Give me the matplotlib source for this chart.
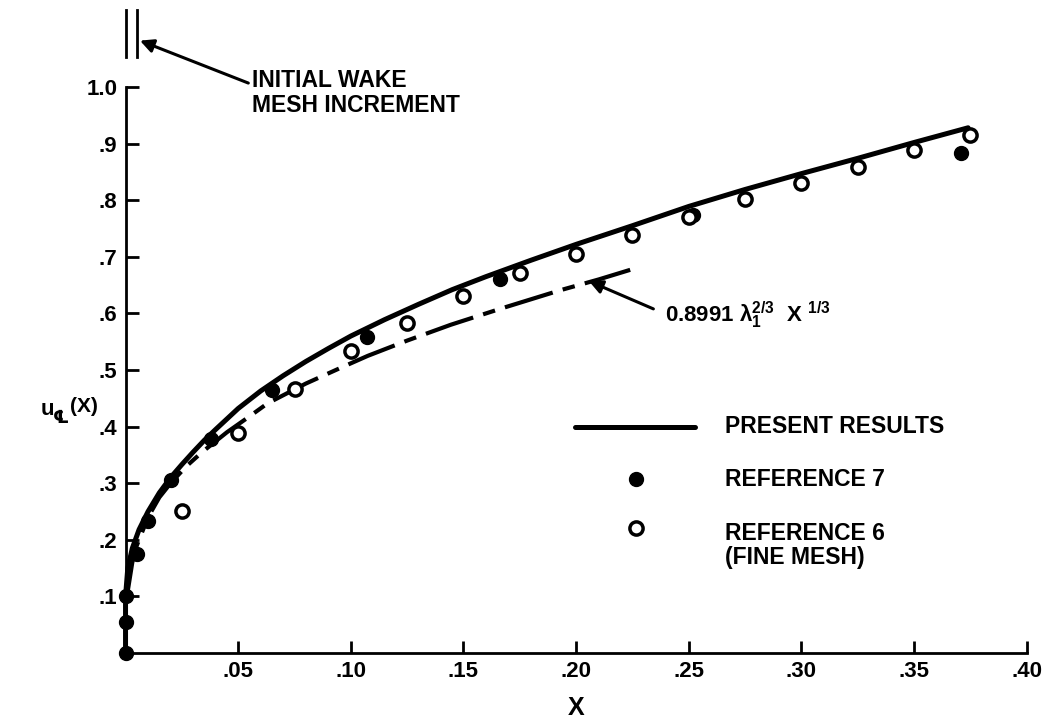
import matplotlib.pyplot as plt

plt.rcParams['font.family'] = ['Liberation Sans', 'DejaVu Sans']
plt.rcParams['font.weight'] = 'bold'
plt.rcParams['mathtext.fontset'] = 'custom'
plt.rcParams['mathtext.rm'] = 'Liberation Sans:bold'
plt.rcParams['mathtext.it'] = 'Liberation Sans:bold'

# Present results (solid curve)
present_x = [0, 0, 0.001, 0.003, 0.006, 0.010, 0.015, 0.020, 0.025, 0.030, 0.035, 0.040,
             0.050, 0.060, 0.070, 0.080, 0.090, 0.100, 0.115, 0.130, 0.145, 0.160, 0.180,
             0.200, 0.225, 0.250, 0.275, 0.300, 0.325, 0.350, 0.374]
present_y = [0, 0.10, 0.15, 0.185, 0.218, 0.25, 0.283, 0.31, 0.333, 0.355, 0.376, 0.395,
             0.432, 0.463, 0.49, 0.515, 0.538, 0.56, 0.589, 0.616, 0.642, 0.665, 0.694,
             0.722, 0.755, 0.789, 0.819, 0.847, 0.874, 0.902, 0.928]

# Asymptotic curve 0.8991 lambda^(2/3) X^(1/3) (dash-dot)
asym_x = [0.001, 0.003, 0.005, 0.010, 0.015, 0.020, 0.027, 0.034, 0.045, 0.055, 0.063,
          0.080, 0.095, 0.1075, 0.125, 0.1444, 0.167, 0.193, 0.210, 0.224]
asym_y = [0.11, 0.16, 0.19, 0.24, 0.275, 0.30, 0.33, 0.355, 0.39, 0.418, 0.441,
          0.476, 0.503, 0.525, 0.552, 0.58, 0.609, 0.641, 0.66, 0.677]

# Reference 7 (filled)
ref7_x = [0, 0, 0, 0.005, 0.010, 0.020, 0.038, 0.065, 0.107, 0.166, 0.252, 0.371]
ref7_y = [0, 0.055, 0.10, 0.175, 0.234, 0.306, 0.378, 0.465, 0.558, 0.660, 0.774, 0.883]

# Reference 6, fine mesh (open)
ref6_x = [0.025, 0.05, 0.075, 0.10, 0.125, 0.15, 0.175, 0.20, 0.225, 0.25,
          0.275, 0.30, 0.325, 0.35, 0.375]
ref6_y = [0.251, 0.389, 0.466, 0.534, 0.583, 0.631, 0.671, 0.705, 0.739, 0.770,
          0.802, 0.831, 0.859, 0.889, 0.915]

xticks = [0.05, 0.10, 0.15, 0.20, 0.25, 0.30, 0.35, 0.40]
xtick_labels = ['.05', '.10', '.15', '.20', '.25', '.30', '.35', '.40']
yticks = [0.1, 0.2, 0.3, 0.4, 0.5, 0.6, 0.7, 0.8, 0.9, 1.0]
ytick_labels = ['.1', '.2', '.3', '.4', '.5', '.6', '.7', '.8', '.9', '1.0']

fig = plt.figure(figsize=(10.47, 7.21), dpi=100)
ax = fig.add_axes([0.1199, 0.0943, 0.8607, 0.785])

ax.plot(present_x, present_y, color='black', lw=3.6, solid_capstyle='round',
        solid_joinstyle='round', clip_on=False, zorder=3)
ax.plot(asym_x, asym_y, color='black', lw=3.0, linestyle=(0, (12, 2.5, 3, 2.5)),
        clip_on=False, zorder=3)
ax.plot(ref7_x, ref7_y, 'o', color='black', ms=10, clip_on=False, zorder=4)
ax.plot(ref6_x, ref6_y, 'o', mfc='white', mec='black', mew=2.5, ms=9.5, clip_on=False, zorder=4)

ax.set_xlim(0, 0.40)
ax.set_ylim(0, 1.0)
for s in ['top', 'right']:
    ax.spines[s].set_visible(False)
for s in ['left', 'bottom']:
    ax.spines[s].set_linewidth(2.0)

ax.set_xticks(xticks)
ax.set_xticklabels(xtick_labels)
ax.set_yticks(yticks)
ax.set_yticklabels(ytick_labels)
ax.tick_params(direction='in', length=9, width=2, labelsize=16, pad=6)

ax.text(0.2, -0.098, 'X', fontsize=18, ha='center', va='center')

# y-axis label with centreline subscript
ax.text(-0.0375, 0.43, 'u', fontsize=16, ha='left', va='center', clip_on=False)
ax.text(-0.0322, 0.414, '℄', fontsize=13, ha='left', va='center', clip_on=False)
ax.text(-0.0245, 0.435, '(X)', fontsize=15, ha='left', va='center', clip_on=False)

# initial wake mesh increment marks
ax.plot([0, 0], [1.053, 1.136], color='black', lw=2, clip_on=False)
ax.plot([0.005, 0.005], [1.053, 1.136], color='black', lw=2, clip_on=False)
ax.annotate('', xy=(0.0064, 1.082), xytext=(0.0545, 1.007), annotation_clip=False,
            arrowprops=dict(arrowstyle='-|>', color='black', lw=2.2, mutation_scale=20,
                            shrinkA=0, shrinkB=0))
ax.text(0.0560, 0.99, 'INITIAL WAKE\nMESH INCREMENT', fontsize=16.5, ha='left', va='center',
        linespacing=1.1, clip_on=False)

# formula annotation
ax.annotate('', xy=(0.2057, 0.657), xytext=(0.2343, 0.608),
            arrowprops=dict(arrowstyle='-|>', color='black', lw=2.2, mutation_scale=20,
                            shrinkA=0, shrinkB=0))
ax.text(0.2394, 0.597, r'0.8991 $\mathrm{λ_1^{2/3}}$  X $^{1/3}$', fontsize=16,
        ha='left', va='center')

# legend drawn by hand
ax.plot([0.1994, 0.2527], [0.400, 0.400], color='black', lw=3.6, solid_capstyle='round')
ax.text(0.2663, 0.400, 'PRESENT RESULTS', fontsize=16.5, ha='left', va='center')
ax.plot([0.2265], [0.307], 'o', color='black', ms=10)
ax.text(0.2663, 0.307, 'REFERENCE 7', fontsize=16.5, ha='left', va='center')
ax.plot([0.2265], [0.221], 'o', mfc='white', mec='black', mew=2.5, ms=9.5)
ax.text(0.2663, 0.190, 'REFERENCE 6\n(FINE MESH)', fontsize=16.5, ha='left', va='center',
        linespacing=1.1)

fig.savefig('out.png', dpi=100)
